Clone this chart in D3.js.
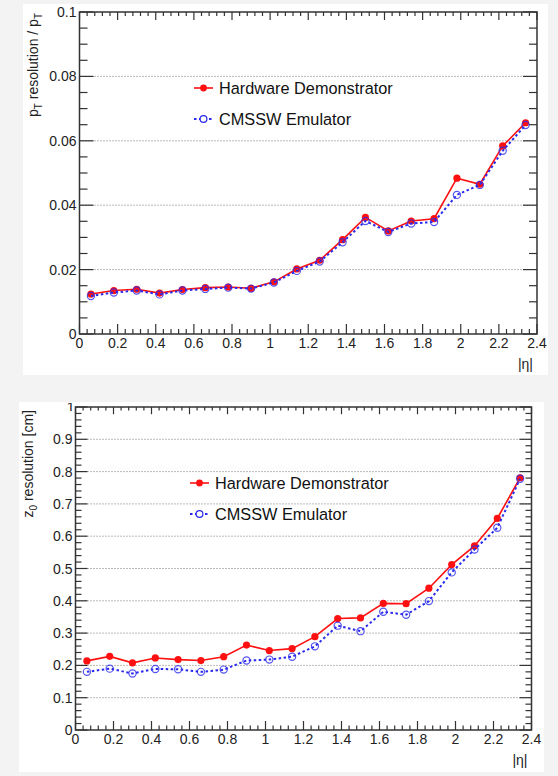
<!DOCTYPE html>
<html>
<head>
<meta charset="utf-8">
<script src="https://cdn.jsdelivr.net/npm/d3@7"></script>
<style>
  html, body { margin: 0; padding: 0; background: #f3f3f3; }
  svg { display: block; font-family: "Liberation Sans", Arial, sans-serif; }
</style>
</head>
<body>
<svg id="chart" width="558" height="776"></svg>
<script>
// |eta| bin centres
const eta = [0.06, 0.18, 0.30, 0.42, 0.54, 0.66, 0.78, 0.90, 1.02, 1.14,
             1.26, 1.38, 1.50, 1.62, 1.74, 1.86, 1.98, 2.10, 2.22, 2.34];

// relative pT resolution
const ptHardware = [0.0124, 0.0135, 0.0139, 0.0127, 0.0138, 0.0144, 0.0146, 0.0142, 0.0162, 0.0202,
                    0.0229, 0.0293, 0.0362, 0.0320, 0.0351, 0.0358, 0.0484, 0.0465, 0.0584, 0.0656];
const ptEmulator = [0.0118, 0.0129, 0.0135, 0.0123, 0.0135, 0.0140, 0.0144, 0.0141, 0.0160, 0.0196,
                    0.0225, 0.0285, 0.0351, 0.0317, 0.0343, 0.0348, 0.0432, 0.0463, 0.0569, 0.0649];

// z0 resolution [cm]
const z0Hardware = [0.214, 0.228, 0.208, 0.223, 0.218, 0.215, 0.227, 0.263, 0.246, 0.252,
                    0.289, 0.345, 0.347, 0.392, 0.391, 0.439, 0.512, 0.570, 0.655, 0.781];
const z0Emulator = [0.180, 0.190, 0.175, 0.189, 0.188, 0.180, 0.187, 0.215, 0.218, 0.227,
                    0.259, 0.323, 0.306, 0.366, 0.357, 0.399, 0.488, 0.559, 0.626, 0.778];

const seriesNames = ["Hardware Demonstrator", "CMSSW Emulator"];

const ptYTicks = [0, 0.02, 0.04, 0.06, 0.08, 0.1];
const ptYLabels = ["0", "0.02", "0.04", "0.06", "0.08", "0.1"];
const z0YTicks = [0, 0.1, 0.2, 0.3, 0.4, 0.5, 0.6, 0.7, 0.8, 0.9, 1];
const z0YLabels = ["0", "0.1", "0.2", "0.3", "0.4", "0.5", "0.6", "0.7", "0.8", "0.9", "1"];
const xTicks = [0, 0.2, 0.4, 0.6, 0.8, 1, 1.2, 1.4, 1.6, 1.8, 2, 2.2, 2.4];
const xLabels = ["0", "0.2", "0.4", "0.6", "0.8", "1", "1.2", "1.4", "1.6", "1.8", "2", "2.2", "2.4"];

const RED = "#ff1010";
const BLUE = "#2a2aee";
const AXIS = "#333";

const svg = d3.select("#chart");

function drawPanel(cfg) {
  const g = svg.append("g");
  // white canvas
  g.append("rect").attr("x", cfg.canvas[0]).attr("y", cfg.canvas[1])
    .attr("width", cfg.canvas[2]).attr("height", cfg.canvas[3]).attr("fill", "#fff");

  const x = d3.scaleLinear().domain([0, 2.4]).range([cfg.left, cfg.right]);
  const y = d3.scaleLinear().domain([0, cfg.ymax]).range([cfg.bottom, cfg.top]);

  // dotted grid at major y ticks
  g.selectAll("line.grid").data(cfg.yTicks.filter(v => v > 0 && v < cfg.ymax)).join("line")
    .attr("x1", cfg.left).attr("x2", cfg.right)
    .attr("y1", d => y(d)).attr("y2", d => y(d))
    .attr("stroke", "#777").attr("stroke-width", 1).attr("stroke-dasharray", "1,2");

  // y ticks, left and right
  const yMinor = d3.range(0, Math.round(cfg.ymax / cfg.yMinorStep) + 1).map(i => i * cfg.yMinorStep);
  const xMinor = d3.range(0, 61).map(i => i * 0.04);
  const isMajor = (v, step) => Math.abs(v / step - Math.round(v / step)) < 1e-6;

  yMinor.forEach(v => {
    const len = isMajor(v, cfg.yMajorStep) ? cfg.yMajorLen : cfg.yMinorLen;
    g.append("line").attr("x1", cfg.left).attr("x2", cfg.left + len)
      .attr("y1", y(v)).attr("y2", y(v)).attr("stroke", AXIS).attr("stroke-width", 1.2);
    g.append("line").attr("x1", cfg.right).attr("x2", cfg.right - len)
      .attr("y1", y(v)).attr("y2", y(v)).attr("stroke", AXIS).attr("stroke-width", 1.2);
  });
  xMinor.forEach(v => {
    const len = isMajor(v, 0.2) ? cfg.xMajorLen : cfg.xMinorLen;
    g.append("line").attr("x1", x(v)).attr("x2", x(v))
      .attr("y1", cfg.bottom).attr("y2", cfg.bottom - len).attr("stroke", AXIS).attr("stroke-width", 1.2);
    g.append("line").attr("x1", x(v)).attr("x2", x(v))
      .attr("y1", cfg.top).attr("y2", cfg.top + len * 0.8).attr("stroke", AXIS).attr("stroke-width", 1.2);
  });

  // frame
  g.append("rect").attr("x", cfg.left).attr("y", cfg.top)
    .attr("width", cfg.right - cfg.left).attr("height", cfg.bottom - cfg.top)
    .attr("fill", "none").attr("stroke", AXIS).attr("stroke-width", 1.5);

  // y labels
  cfg.yTicks.forEach((v, i) => {
    if (cfg.skipTopLabel && v === cfg.ymax) return;
    g.append("text").attr("x", cfg.left - 3).attr("y", y(v)).attr("dy", "0.36em")
      .attr("text-anchor", "end").attr("font-size", 14).attr("fill", "#222").text(cfg.yLabels[i]);
  });
  // x labels
  xTicks.forEach((v, i) => {
    g.append("text").attr("x", x(v)).attr("y", cfg.bottom + 14)
      .attr("text-anchor", "middle").attr("font-size", 14).attr("fill", "#222").text(xLabels[i]);
  });
  // x title
  g.append("text").attr("x", cfg.right - 4).attr("y", cfg.xTitleY)
    .attr("text-anchor", "end").attr("font-size", 14).attr("fill", "#222").text("|η|");

  // y title
  const yt = g.append("text")
    .attr("transform", `translate(${cfg.yTitleX},${cfg.yTitleTop}) rotate(-90)`)
    .attr("text-anchor", "end").attr("font-size", 14).attr("fill", "#222");
  cfg.yTitle(yt);

  // series
  const line = d3.line().x((d, i) => x(eta[i])).y(d => y(d));
  g.append("path").datum(cfg.hw).attr("d", line)
    .attr("fill", "none").attr("stroke", RED).attr("stroke-width", 1.6);
  g.selectAll("circle.hw").data(cfg.hw).join("circle")
    .attr("cx", (d, i) => x(eta[i])).attr("cy", d => y(d)).attr("r", 3.6).attr("fill", RED);
  g.append("path").datum(cfg.emu).attr("d", line)
    .attr("fill", "none").attr("stroke", BLUE).attr("stroke-width", 2).attr("stroke-dasharray", "2.5,2.5");
  g.selectAll("circle.emu").data(cfg.emu).join("circle")
    .attr("cx", (d, i) => x(eta[i])).attr("cy", d => y(d)).attr("r", 3.6)
    .attr("fill", "none").attr("stroke", BLUE).attr("stroke-opacity", 0.8).attr("stroke-width", 1.2);

  // legend
  const lx = cfg.legend[0], ly = cfg.legend[1];
  g.append("line").attr("x1", lx).attr("x2", lx + 19).attr("y1", ly).attr("y2", ly)
    .attr("stroke", RED).attr("stroke-width", 1.6);
  g.append("circle").attr("cx", lx + 9.5).attr("cy", ly).attr("r", 3.4).attr("fill", RED);
  g.append("line").attr("x1", lx).attr("x2", lx + 19).attr("y1", ly + 31).attr("y2", ly + 31)
    .attr("stroke", BLUE).attr("stroke-width", 2).attr("stroke-dasharray", "2.5,2.5");
  g.append("circle").attr("cx", lx + 9.5).attr("cy", ly + 31).attr("r", 3.4)
    .attr("fill", "#fff").attr("stroke", BLUE).attr("stroke-width", 1.2);
  seriesNames.forEach((name, i) => {
    g.append("text").attr("x", lx + 25).attr("y", ly + i * 31).attr("dy", "0.36em")
      .attr("font-size", 16.3).attr("fill", "#111").text(name);
  });
  return { x, y, g };
}

drawPanel({
  canvas: [23, 4, 525, 371],
  left: 79.5, right: 537, top: 12, bottom: 334,
  ymax: 0.1, yTicks: ptYTicks, yLabels: ptYLabels,
  yMajorStep: 0.02, yMinorStep: 0.005, yMajorLen: 14, yMinorLen: 8,
  xMajorLen: 10, xMinorLen: 5,
  xTitleY: 369,
  yTitleX: 38, yTitleTop: 13,
  yTitle: t => {
    t.append("tspan").text("p");
    t.append("tspan").attr("font-size", 10).attr("dy", 4).text("T");
    t.append("tspan").attr("dy", -4).text(" resolution / p");
    t.append("tspan").attr("font-size", 10).attr("dy", 4).text("T");
  },
  hw: ptHardware, emu: ptEmulator,
  legend: [194, 88]
});

const bottomPanel = drawPanel({
  canvas: [19, 402, 525, 370],
  left: 75.5, right: 531.5, top: 407, bottom: 730,
  ymax: 1, yTicks: z0YTicks, yLabels: z0YLabels, skipTopLabel: true,
  yMajorStep: 0.1, yMinorStep: 0.02, yMajorLen: 12, yMinorLen: 6,
  xMajorLen: 9, xMinorLen: 4.5,
  xTitleY: 765,
  yTitleX: 33, yTitleTop: 410,
  yTitle: t => {
    t.append("tspan").text("z");
    t.append("tspan").attr("font-size", 10).attr("dy", 4).text("0");
    t.append("tspan").attr("dy", -4).text(" resolution [cm]");
  },
  hw: z0Hardware, emu: z0Emulator,
  legend: [190, 483]
});

// the "1" label at the top of the z0 axis is mostly hidden, only its top sliver shows
svg.append("clipPath").attr("id", "topLabelClip")
  .append("rect").attr("x", 60).attr("y", 403).attr("width", 16).attr("height", 8);
svg.append("text").attr("clip-path", "url(#topLabelClip)")
  .attr("x", 74.5).attr("y", bottomPanel.y(1)).attr("dy", "0.36em")
  .attr("text-anchor", "end").attr("font-size", 14).attr("fill", "#222").text("1");
</script>
</body>
</html>
